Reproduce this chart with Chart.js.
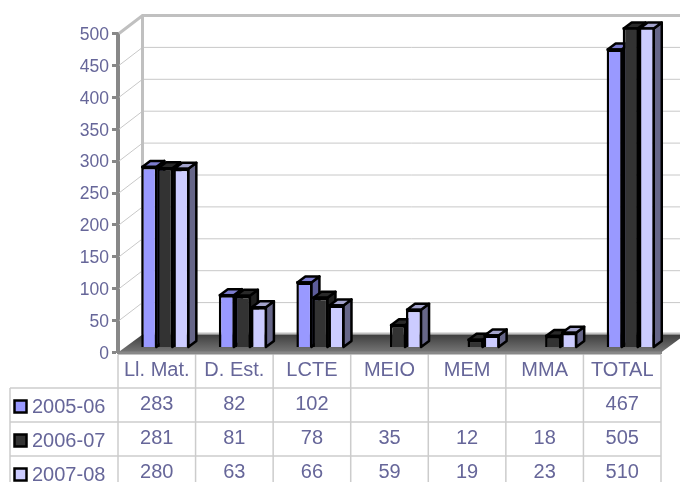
<!DOCTYPE html>
<html><head><meta charset="utf-8">
<style>html,body{margin:0;padding:0;background:#fff}canvas{display:block}</style>
<script src="https://cdn.jsdelivr.net/npm/chart.js@4"></script>
</head><body><canvas id="c" width="680" height="482"></canvas>
<script>
const categories = ['Ll. Mat.','D. Est.','LCTE','MEIO','MEM','MMA','TOTAL'];
const seriesNames = ['2005-06','2006-07','2007-08'];
const s2005 = [283,82,102,null,null,null,467];
const s2006 = [281,81,78,35,12,18,505];
const s2007 = [280,63,66,59,19,23,510];
const seriesValues = [s2005,s2006,s2007];
const fronts = ['#9999FF','#333333','#CCCCFF'];
const tops = ['#7C7CCF','#292929','#A3A3CC'];
const sides = ['#5C5C99','#1F1F1F','#666688'];
const TEXT = '#666699', FONT = '"Liberation Sans", Arial, sans-serif';
const BACK_X = 24.5, BACK_Y = 18, DEPTH_X = 8, DEPTH_Y = 6, SHIFT_X = 8.5, SHIFT_Y = -5;
const LINE = 2.5;

const threeD = {
  id:'threeD',
  beforeDatasetsDraw(chart){
    const {ctx, chartArea:a, scales:{y}} = chart;
    ctx.save();
    y.ticks.forEach(t=>{
      const py = y.getPixelForValue(t.value);
      if(t.value===0) return;
      const top = t.value===y.max;
      ctx.strokeStyle = top ? '#C0C0C0' : '#C8C8C8';
      ctx.lineWidth = top ? 3 : 1;
      ctx.beginPath();
      ctx.moveTo(a.left+1, py);
      ctx.lineTo(a.left+BACK_X, py-BACK_Y);
      ctx.lineTo(a.right+BACK_X, py-BACK_Y);
      ctx.stroke();
    });
    ctx.strokeStyle='#C0C0C0'; ctx.lineWidth=3;
    ctx.beginPath(); ctx.moveTo(a.left+BACK_X, a.top-BACK_Y); ctx.lineTo(a.left+BACK_X, a.bottom-BACK_Y); ctx.stroke();
    ctx.lineWidth=2;
    ctx.beginPath(); ctx.moveTo(a.left+BACK_X, a.bottom-BACK_Y-1); ctx.lineTo(a.right+BACK_X, a.bottom-BACK_Y-1); ctx.stroke();
    const g = ctx.createLinearGradient(0,a.bottom-BACK_Y,0,a.bottom);
    g.addColorStop(0,'#3E3E3E'); g.addColorStop(1,'#777777');
    ctx.fillStyle=g;
    ctx.beginPath();
    ctx.moveTo(a.left,a.bottom); ctx.lineTo(a.left+BACK_X,a.bottom-BACK_Y);
    ctx.lineTo(a.right+BACK_X,a.bottom-BACK_Y); ctx.lineTo(a.right,a.bottom);
    ctx.closePath(); ctx.fill();
    ctx.restore();

    chart.data.datasets.forEach((ds,i)=>{
      const meta = chart.getDatasetMeta(i);
      ctx.save();
      ctx.translate(SHIFT_X,SHIFT_Y);
      ctx.lineWidth=LINE; ctx.strokeStyle='#000'; ctx.lineJoin='round';
      meta.data.forEach((el,k)=>{
        if(ds.data[k]==null) return;
        const t=Math.max(el.y,y.top), l=el.x-el.width/2, r=el.x+el.width/2, b=el.base;
        ctx.fillStyle=sides[i];
        ctx.beginPath();
        ctx.moveTo(r-1,t); ctx.lineTo(r-1+DEPTH_X,t-DEPTH_Y); ctx.lineTo(r-1+DEPTH_X,b-DEPTH_Y); ctx.lineTo(r-1,b);
        ctx.closePath(); ctx.fill(); ctx.stroke();
        ctx.fillStyle=tops[i];
        ctx.beginPath();
        ctx.moveTo(l+1,t); ctx.lineTo(l+1+DEPTH_X,t-DEPTH_Y); ctx.lineTo(r-1+DEPTH_X,t-DEPTH_Y); ctx.lineTo(r-1,t);
        ctx.closePath(); ctx.fill(); ctx.stroke();
      });
      ctx.save();
      ctx.beginPath();
      ctx.rect(a.left-20,a.top,a.right-a.left+60,a.bottom-a.top+1);
      ctx.clip();
      meta.controller.draw();
      ctx.restore();
      ctx.strokeStyle='#000';
      meta.data.forEach((el,k)=>{
        if(ds.data[k]==null) return;
        const t=Math.max(el.y,y.top), l=el.x-el.width/2, r=el.x+el.width/2;
        ctx.beginPath(); ctx.moveTo(l,t); ctx.lineTo(r,t); ctx.stroke();
      });
      ctx.restore();
    });
    return false;
  },
  afterDraw(chart){
    const {ctx, chartArea:a, scales:{x}} = chart;
    const cw = x.getPixelForValue(1)-x.getPixelForValue(0);
    const rows = [388,422,456], rowH = 34, tableLeft = 10;
    ctx.save();
    ctx.strokeStyle='#CCCCCC'; ctx.lineWidth=1.5;
    categories.forEach((c,i)=>{
      const px = x.getPixelForValue(i)-cw/2;
      ctx.beginPath(); ctx.moveTo(px,a.bottom+2); ctx.lineTo(px,482); ctx.stroke();
    });
    ctx.beginPath(); ctx.moveTo(a.right,a.bottom+2); ctx.lineTo(a.right,482); ctx.stroke();
    ctx.beginPath(); ctx.moveTo(tableLeft,rows[0]); ctx.lineTo(tableLeft,482); ctx.stroke();
    rows.forEach(r=>{ ctx.beginPath(); ctx.moveTo(tableLeft,r); ctx.lineTo(a.right,r); ctx.stroke(); });
    ctx.strokeStyle='#888888'; ctx.lineWidth=3;
    ctx.beginPath(); ctx.moveTo(a.left,a.bottom+0.5); ctx.lineTo(a.right,a.bottom+0.5); ctx.stroke();
    ctx.textBaseline='middle';
    seriesValues.forEach((vals,s)=>{
      const cy = rows[s]+rowH/2;
      ctx.font='20px '+FONT; ctx.fillStyle=TEXT; ctx.textAlign='center';
      vals.forEach((v,i)=>{ if(v!=null) ctx.fillText(String(v), x.getPixelForValue(i), cy-1); });
      ctx.fillStyle=fronts[s]; ctx.strokeStyle='#000'; ctx.lineWidth=2.5;
      ctx.beginPath(); ctx.rect(14.5,cy-4.5,12,12); ctx.fill(); ctx.stroke();
      ctx.fillStyle=TEXT; ctx.textAlign='left';
      ctx.fillText(seriesNames[s],32,cy+2);
    });
    ctx.restore();
  }
};

new Chart(document.getElementById('c'),{
  type:'bar',
  data:{labels:categories,datasets:seriesValues.map((d,i)=>({
    label:seriesNames[i],data:d,backgroundColor:fronts[i],borderColor:'#000',borderWidth:LINE,
    categoryPercentage:0.62,barPercentage:1
  }))},
  options:{
    responsive:false,animation:false,
    layout:{padding:{top:33.5,right:19,left:0,bottom:0}},
    plugins:{legend:{display:false},title:{display:false},tooltip:{enabled:false}},
    scales:{
      x:{
        afterFit(s){s.height=129.5;},
        grid:{display:false,drawTicks:false,tickLength:0},
        border:{color:'#888888',width:3},
        ticks:{color:TEXT,font:{family:FONT,size:20},padding:6,maxRotation:0,autoSkip:false}
      },
      y:{
        min:0,max:500,
        afterFit(s){s.width=118;},
        grid:{drawOnChartArea:false,drawTicks:true,tickLength:6,tickWidth:3,tickColor:'#888888'},
        border:{color:'#888888',width:4},
        ticks:{stepSize:50,color:TEXT,font:{family:FONT,size:17.5},padding:3,labelOffset:1.5}
      }
    }
  },
  plugins:[threeD]
});
</script></body></html>
